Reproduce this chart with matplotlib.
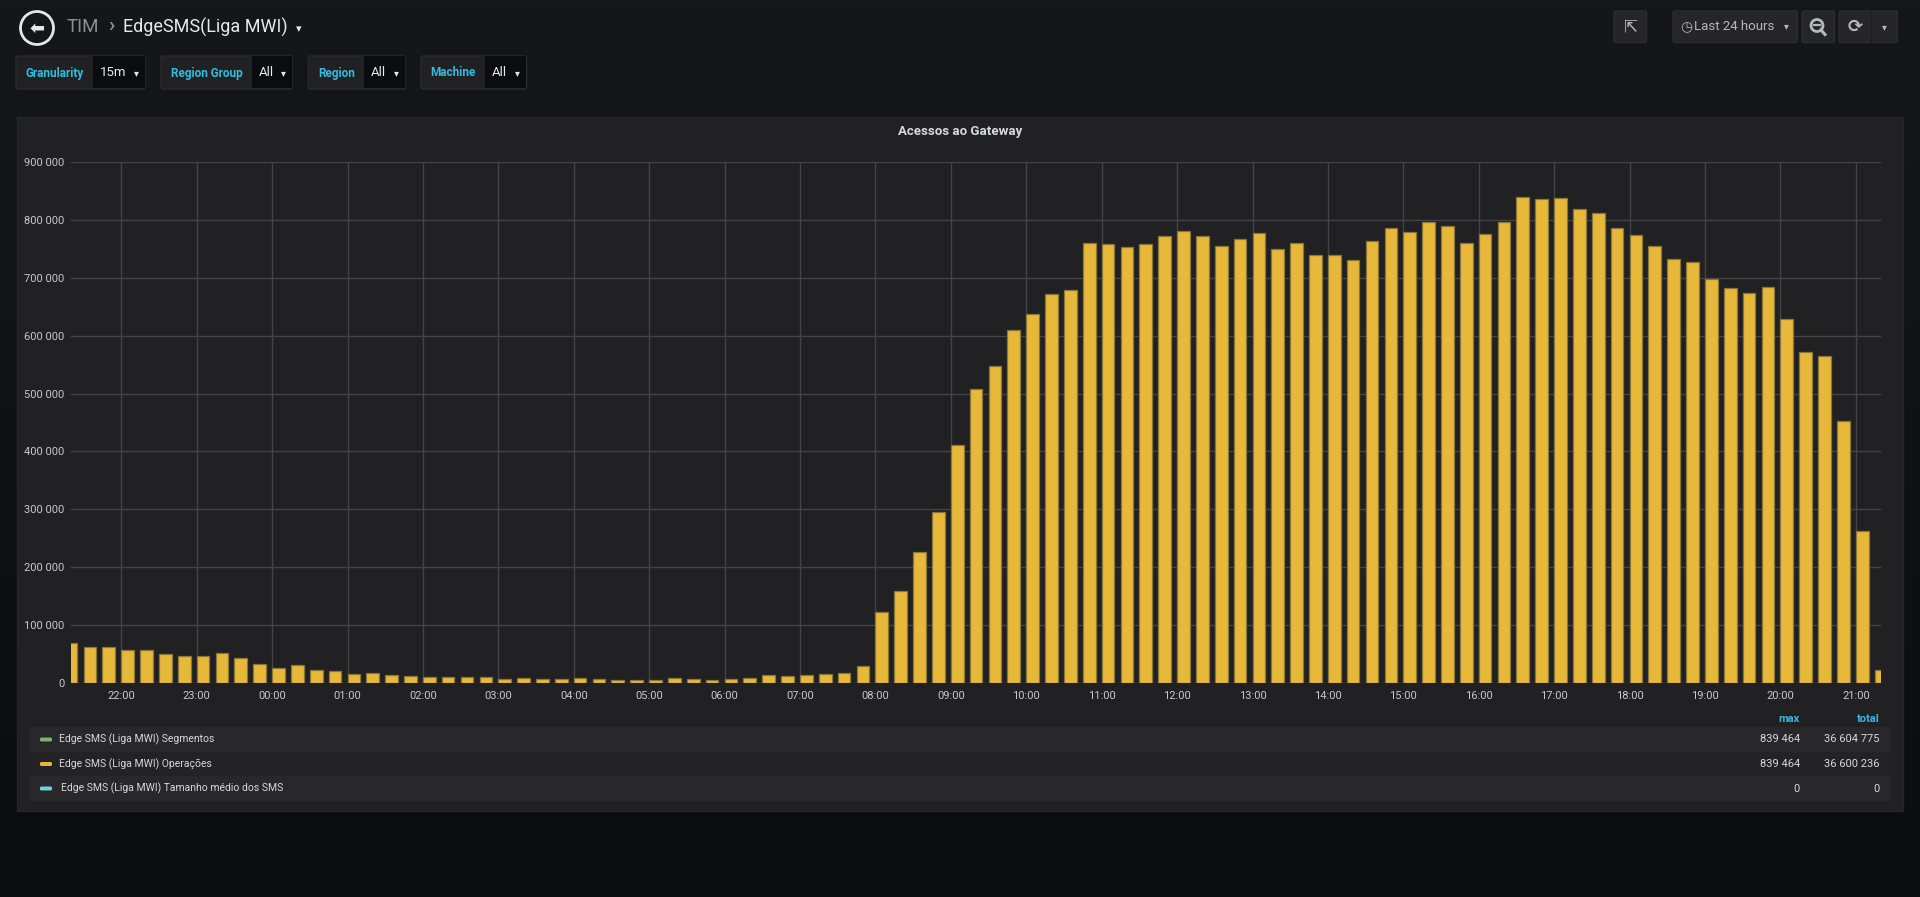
import matplotlib
matplotlib.use("Agg")
import matplotlib.pyplot as plt
import numpy as np
from matplotlib.patches import Rectangle, FancyBboxPatch, Circle
from matplotlib.colors import to_rgb

plt.rcParams['font.family'] = ['Roboto', 'DejaVu Sans']

# 15 minute buckets, 21:15 (day before) -> 21:15
start_hour = -2.75          # hours relative to midnight
step_hours = 0.25
operacoes = [
    68600, 62900, 62300,
    57100, 57100, 50300, 46300,
    46900, 51400, 43400, 32600,
    26300, 31400, 22900, 20600,
    15400, 16600, 13100, 12000,
    10900, 9700, 10900, 10300,
    7400, 9100, 6900, 7400,
    9100, 7400, 5700, 5700,
    5700, 8600, 6300, 5700,
    6900, 9100, 14300, 12000,
    14300, 16300, 18000, 30000,
    123000, 159000, 226600, 295500,
    411000, 508700, 547600, 609600,
    637600, 672800, 678500, 759600,
    757600, 753800, 758900, 772300,
    781300, 771700, 754500, 767200,
    777400, 750000, 760200, 739800,
    738500, 731500, 764000, 785700,
    779300, 795900, 790200, 760200,
    775500, 795900, 839464, 836200,
    838000, 818900, 811300, 785700,
    774200, 755700, 732100, 727000,
    697600, 682300, 673400, 684200,
    628700, 571900, 564900, 451900,
    263000, 23000,
]
hour_ticks = list(range(-2, 22))
y_ticks = [0, 100000, 200000, 300000, 400000, 500000, 600000, 700000, 800000, 900000]

legend_names = ["Edge SMS (Liga MWI) Segmentos",
                "Edge SMS (Liga MWI) Operações",
                "Edge SMS (Liga MWI) Tamanho médio dos SMS"]
legend_colors = ["#7eb26d", "#eab839", "#6ed0e0"]
legend_max = ["839 464", "839 464", "0"]
legend_total = ["36 604 775", "36 600 236", "0"]

variables = [("Granularity", "15m"), ("Region Group", "All"), ("Region", "All"), ("Machine", "All")]

W, H = 1920, 897
fig = plt.figure(figsize=(W / 100, H / 100), dpi=100)

# background / UI layer in pixel coordinates
bg = fig.add_axes([0, 0, 1, 1], zorder=0)
bg.set_xlim(0, W)
bg.set_ylim(H, 0)
bg.axis("off")
c1, c2 = np.array(to_rgb("#161719")), np.array(to_rgb("#0b0c0e"))
t = np.linspace(0, 1, 256)[:, None]
grad = (c1 * (1 - t) + c2 * t)[:, None, :]
bg.imshow(grad, extent=[0, W, H, 0], aspect="auto", zorder=0)

# header
bg.add_patch(Circle((37, 28), 16.5, fill=False, ec="#e6e6e6", lw=2, zorder=2))
bg.text(37, 28.5, "⬅", color="#e6e6e6", fontsize=13, ha="center", va="center",
        family="DejaVu Sans", fontweight="bold", zorder=3)
bg.text(67, 27, "TIM", color="#8e8f92", fontsize=13.5, va="center", zorder=3)
bg.text(108, 26, "›", color="#8e8f92", fontsize=15, fontweight="bold", va="center", zorder=3)
bg.text(123, 27, "EdgeSMS(Liga MWI)", color="#e9e9e9", fontsize=13, va="center", zorder=3)
bg.text(299, 29, "▾", color="#e9e9e9", fontsize=8, ha="center", va="center",
        family="DejaVu Sans", zorder=3)

# template variables
var_boxes = [(16, 93, 145), (161, 252, 292), (308.5, 364, 405), (421, 484.5, 526.5)]
for (name, val), (x0, xm, x1) in zip(variables, var_boxes):
    bg.add_patch(FancyBboxPatch((x0, 56), x1 - x0, 33, boxstyle="round,pad=0,rounding_size=2",
                                fc="#212124", ec="#2b2b2e", lw=1, zorder=2))
    bg.add_patch(Rectangle((xm, 56.5), x1 - xm - 0.5, 32, fc="#0b0c0e", ec="none", zorder=2))
    bg.text((x0 + xm) / 2, 73, name, color="#2fbde0", fontsize=8.5, fontweight="bold",
            ha="center", va="center", zorder=3)
    bg.text(xm + 7, 73, val, color="#e9e9e9", fontsize=9.5, va="center", zorder=3)
    bg.text(x1 - 9, 73, "▾", color="#e9e9e9", fontsize=7, ha="center", va="center",
            family="DejaVu Sans", zorder=3)

# right-side buttons
for x0, x1 in [(1614, 1646.5), (1673, 1797.5), (1802, 1834.5), (1839, 1897.5)]:
    bg.add_patch(FancyBboxPatch((x0, 11), x1 - x0, 31.5, boxstyle="round,pad=0,rounding_size=2",
                                fc="#262628", ec="#2d2d30", lw=1, zorder=2))
bg.plot([1870.5, 1870.5], [11, 42.5], color="#1e1e20", lw=1, zorder=3)
bg.text(1630, 27, "⇱", color="#b7b8ba", fontsize=12, ha="center", va="center",
        family="DejaVu Sans", zorder=3)
bg.text(1686, 27, "◷", color="#b7b8ba", fontsize=10, ha="center", va="center",
        family="DejaVu Sans", zorder=3)
bg.text(1694, 27, "Last 24 hours", color="#b7b8ba", fontsize=9.5, va="center", zorder=3)
bg.text(1786, 26, "▾", color="#b7b8ba", fontsize=7, ha="center", va="center",
        family="DejaVu Sans", zorder=3)
bg.add_patch(Circle((1817, 25.5), 6, fill=False, ec="#b7b8ba", lw=2, zorder=3))
bg.plot([1821, 1825], [30, 34.5], color="#b7b8ba", lw=2.2, zorder=3)
bg.plot([1814, 1820], [25.5, 25.5], color="#b7b8ba", lw=1.6, zorder=3)
bg.text(1855, 27, "⟳", color="#b7b8ba", fontsize=13, ha="center", va="center",
        family="DejaVu Sans", fontweight="bold", zorder=3)
bg.text(1884, 27, "▾", color="#b7b8ba", fontsize=7, ha="center", va="center",
        family="DejaVu Sans", zorder=3)

# panel
bg.add_patch(Rectangle((17, 117), 1886, 694, fc="#212124", ec="#262629", lw=1, zorder=1))
bg.text(960, 131, "Acessos ao Gateway", color="#d8d9da", fontsize=9.5, fontweight="bold",
        ha="center", va="center", zorder=3)

# legend table
bg.text(1800, 719, "max", color="#33b5e5", fontsize=8, fontweight="bold", ha="right",
        va="center", zorder=3)
bg.text(1880, 719, "total", color="#33b5e5", fontsize=8, fontweight="bold", ha="right",
        va="center", zorder=3)
row_bg = ["#28282b", "#232326", "#28282b"]
for i, (name, col, mx, tot) in enumerate(zip(legend_names, legend_colors, legend_max, legend_total)):
    y0 = 727.5 + i * 24.5
    bg.add_patch(Rectangle((30, y0), 1860, 24.5, fc=row_bg[i], ec="none", zorder=2))
    yc = y0 + 12
    bg.add_patch(FancyBboxPatch((40, yc - 2), 12, 4, boxstyle="round,pad=0,rounding_size=1.5",
                                fc=col, ec="none", zorder=3))
    bg.text(59 + (2 if i == 2 else 0), yc, name, color="#d8d9da", fontsize=7.5, va="center", zorder=3)
    bg.text(1800, yc, mx, color="#d8d9da", fontsize=8, ha="right", va="center", zorder=3)
    bg.text(1880, yc, tot, color="#d8d9da", fontsize=8, ha="right", va="center", zorder=3)

# chart
left, right, top, bottom = 71, 1881, 162, 683
ax = fig.add_axes([left / W, 1 - bottom / H, (right - left) / W, (bottom - top) / H], zorder=2)
ax.set_facecolor("none")
x = start_hour + step_hours * np.arange(len(operacoes))
ax.bar(x, operacoes, width=10.1 / 60, align="edge", color="#e8b83a",
       edgecolor="#8a7636", linewidth=0.9, zorder=3)
ax.set_xlim(-2 - 40 / 60, 21 + 20 / 60)
ax.set_ylim(0, 900000)
ax.set_xticks(hour_ticks)
ax.set_xticklabels([f"{h % 24:02d}:00" for h in hour_ticks])
ax.set_yticks(y_ticks)
ax.set_yticklabels([f"{v:,}".replace(",", " ") for v in y_ticks])
ax.grid(True, color="#444448", linewidth=1, zorder=0)
ax.set_axisbelow(True)
for s in ax.spines.values():
    s.set_visible(False)
ax.tick_params(axis="both", length=0, colors="#c8c9ca", labelsize=8)
ax.tick_params(axis="y", pad=4.5)
ax.tick_params(axis="x", pad=6)

fig.savefig("out.png", dpi=100, facecolor="#161719")
